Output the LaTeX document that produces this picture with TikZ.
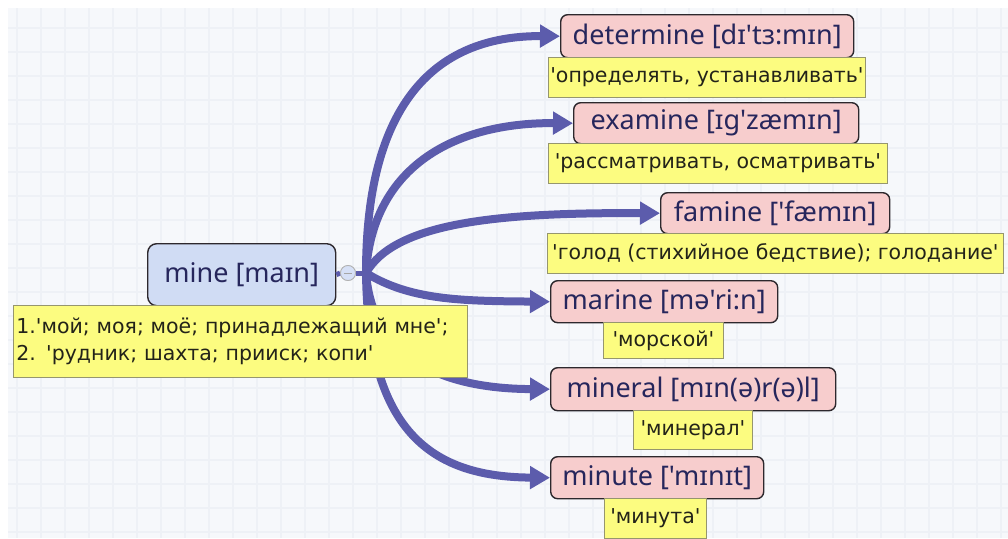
\documentclass[tikz,border=0pt]{standalone}
\usepackage{fontspec}
\setmainfont{DejaVu Sans}
\newfontfamily\termfont{Noto Sans}
\newfontfamily\notefont{DejaVu Sans}
\usetikzlibrary{arrows.meta}

\definecolor{bgc}{RGB}{246,248,251}
\definecolor{gridc}{RGB}{238,241,246}
\definecolor{pinkc}{RGB}{247,205,205}
\definecolor{bluec}{RGB}{208,220,244}
\definecolor{notec}{RGB}{252,252,128}
\definecolor{notebord}{RGB}{150,150,110}
\definecolor{bord}{RGB}{45,40,45}
\definecolor{termtext}{RGB}{38,38,92}
\definecolor{notetext}{RGB}{35,35,25}
\definecolor{connc}{RGB}{92,92,172}
\definecolor{circc}{RGB}{214,224,246}

\tikzset{
  term/.style={draw=bord, fill=pinkc, rounded corners=7pt, line width=1.4pt,
    anchor=north west, inner sep=0pt, text=termtext,
    font=\termfont\fontsize{27}{32}\selectfont},
  root/.style={term, fill=bluec, rounded corners=9pt},
  note/.style={draw=notebord, fill=notec, line width=0.8pt,
    anchor=north west, inner sep=0pt, text=notetext,
    font=\notefont\fontsize{20.5}{27}\selectfont},
  conn/.style={draw=connc, line width=8pt,
    -{Triangle[length=20pt,width=22pt]}},
  trunk/.style={draw=connc, line width=5pt},
  gridline/.style={draw=gridc, line width=1.3pt}
}

\begin{document}
\begin{tikzpicture}[x=1pt,y=-1pt]
  \useasboundingbox (0,0) rectangle (1008,538);
  % canvas with a faint grid
  \fill[white] (0,0) rectangle (1008,538);
  \fill[bgc] (8,8) rectangle (1008,538);
  \foreach \i in {0,...,41} {
    \draw[gridline] ({17+24*\i},8) -- ({17+24*\i},538);
  }
  \foreach \j in {0,...,22} {
    \draw[gridline] (8,{28+24*\j}) -- (1008,{28+24*\j});
  }

  % central word
  \node[root, minimum width=188pt, minimum height=62pt] (mine) at (147,243) {mine [maɪn]};

  % collapse button and hub
  \node[circle, draw=gray!60, fill=circc, line width=0.8pt, minimum size=15pt, inner sep=0pt] (col) at (348,273) {};
  \coordinate (hub) at (366,273);

  % related words
  \node[term, minimum width=293pt, minimum height=43pt] (det) at (560,14) {determine [dɪ'tɜ:mɪn]};
  \node[term, minimum width=285pt, minimum height=41pt] (exa) at (573,102) {examine [ɪg'zæmɪn]};
  \node[term, minimum width=229pt, minimum height=41pt] (fam) at (660,192) {famine ['fæmɪn]};
  \node[term, minimum width=227pt, minimum height=42pt] (mar) at (550,280) {marine [mə'ri:n]};
  \node[term, minimum width=285pt, minimum height=43pt] (minl) at (550,367) {mineral [mɪn(ə)r(ə)l]};
  \node[term, minimum width=213pt, minimum height=42pt] (minu) at (550,456) {minute ['mɪnɪt]};

  % connectors
  \draw[trunk] (mine.east) -- (col.west);
  \draw[trunk] (col.east) -- (hub);
  \draw[conn] (hub) .. controls (366,110) and (430,35.5) .. (det.west);
  \draw[conn] (hub) .. controls (372,170) and (450,122.5) .. (exa.west);
  \draw[conn] (hub) .. controls (395,222) and (500,212.5) .. (fam.west);
  \draw[conn] (hub) .. controls (410,300) and (460,301) .. (mar.west);
  \draw[conn] (hub) .. controls (372,350) and (430,388.5) .. (minl.west);
  \draw[conn] (hub) .. controls (368,430) and (430,477) .. (minu.west);

  % button drawn over the trunk
  \node[circle, draw=gray!60, fill=circc, line width=0.8pt, minimum size=15pt, inner sep=0pt] at (col) {};
  \draw[gray!70, line width=1pt] ([xshift=-4pt]col.center) -- ([xshift=4pt]col.center);

  % translations
  \node[note, text width=448pt, minimum height=72pt, inner xsep=3pt, align=left] (minen) at (13,305)
    {1.'мой; моя; моё; принадлежащий мне';\\2. 'рудник; шахта; прииск; копи'};
  \node[note, minimum width=317pt, minimum height=40pt] (detn) at (548,57) {'определять, устанавливать'};
  \node[note, minimum width=339pt, minimum height=40pt] (exan) at (548,143) {'рассматривать, осматривать'};
  \node[note, minimum width=456pt, minimum height=40pt] (famn) at (547,233) {'голод (стихийное бедствие); голодание'};
  \node[note, minimum width=120pt, minimum height=36pt] (marn) at (603,322) {'морской'};
  \node[note, minimum width=119pt, minimum height=39pt] (minln) at (633,410) {'минерал'};
  \node[note, minimum width=102pt, minimum height=40pt] (minun) at (604,498) {'минута'};
\end{tikzpicture}
\end{document}
